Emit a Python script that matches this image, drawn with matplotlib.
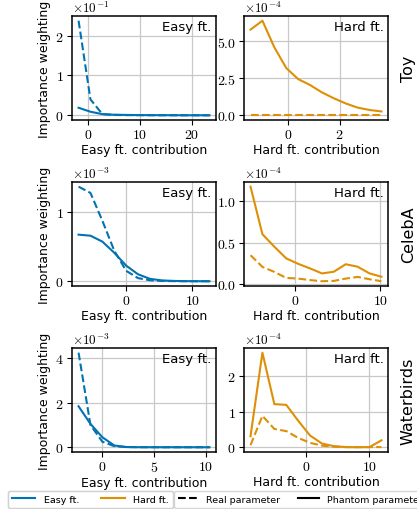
import matplotlib
matplotlib.use("Agg")
import matplotlib.pyplot as plt
from matplotlib.lines import Line2D

# colours of the two feature types
easy_color = "#0173B2"
hard_color = "#DE8F05"

# Toy
toy_easy_x = [-1.9, 0.4, 2.7, 5.0, 7.3, 9.6, 11.9, 14.2, 16.5, 18.8, 21.1, 23.4]
toy_easy_real = [0.2375, 0.04, 0.003, 0.001, 0.0006, 0.0004, 0.0003, 0.0002, 0.0002, 0.0001, 0.0001, 0.0001]
toy_easy_phantom = [0.019, 0.009, 0.003, 0.0015, 0.001, 0.0007, 0.0005, 0.0004, 0.0003, 0.0002, 0.0002, 0.0001]
toy_hard_x = [-1.44, -0.98, -0.52, -0.06, 0.4, 0.86, 1.32, 1.78, 2.24, 2.7, 3.16, 3.62]
toy_hard_real = [0.0] * 12
toy_hard_phantom = [5.8e-4, 6.4e-4, 4.6e-4, 3.2e-4, 2.45e-4, 2.05e-4, 1.55e-4, 1.15e-4, 0.8e-4, 0.52e-4, 0.36e-4, 0.26e-4]

# CelebA
celeba_easy_x = [-7.2, -5.4, -3.6, -1.8, 0.0, 1.8, 3.6, 5.4, 7.2, 9.0, 10.8, 12.6]
celeba_easy_real = [1.36e-3, 1.27e-3, 0.87e-3, 0.44e-3, 0.15e-3, 0.045e-3, 0.015e-3, 0.005e-3, 0.002e-3, 0.001e-3, 0.0005e-3, 0.0003e-3]
celeba_easy_phantom = [0.67e-3, 0.655e-3, 0.57e-3, 0.41e-3, 0.225e-3, 0.1e-3, 0.035e-3, 0.012e-3, 0.005e-3, 0.002e-3, 0.001e-3, 0.0005e-3]
celeba_hard_x = [-5.25, -3.85, -2.45, -1.05, 0.35, 1.75, 3.15, 4.55, 5.95, 7.35, 8.75, 10.15]
celeba_hard_real = [0.348e-4, 0.208e-4, 0.148e-4, 0.076e-4, 0.068e-4, 0.05e-4, 0.036e-4, 0.04e-4, 0.068e-4, 0.088e-4, 0.06e-4, 0.036e-4]
celeba_hard_phantom = [1.17e-4, 0.60e-4, 0.45e-4, 0.31e-4, 0.245e-4, 0.19e-4, 0.13e-4, 0.15e-4, 0.24e-4, 0.21e-4, 0.13e-4, 0.09e-4]

# Waterbirds
wb_easy_x = [-2.3, -1.15, 0.0, 1.15, 2.3, 3.45, 4.6, 5.75, 6.9, 8.05, 9.2, 10.35]
wb_easy_real = [4.25e-3, 1.0e-3, 0.25e-3, 0.05e-3, 0.01e-3, 0.004e-3, 0.002e-3, 0.001e-3, 0.001e-3, 0.0005e-3, 0.0005e-3, 0.0005e-3]
wb_easy_phantom = [1.84e-3, 1.05e-3, 0.45e-3, 0.08e-3, 0.01e-3, 0.003e-3, 0.002e-3, 0.001e-3, 0.001e-3, 0.0005e-3, 0.0005e-3, 0.0005e-3]
wb_hard_x = [-8.7, -6.83, -4.95, -3.08, -1.21, 0.67, 2.54, 4.41, 6.28, 8.16, 10.03, 11.9]
wb_hard_real = [0.065e-4, 0.89e-4, 0.52e-4, 0.46e-4, 0.27e-4, 0.13e-4, 0.05e-4, 0.02e-4, 0.01e-4, 0.01e-4, 0.01e-4, 0.01e-4]
wb_hard_phantom = [0.316e-4, 2.67e-4, 1.22e-4, 1.2e-4, 0.754e-4, 0.335e-4, 0.11e-4, 0.036e-4, 0.01e-4, 0.005e-4, 0.01e-4, 0.2e-4]

# ticks
toy_easy_xticks = [0, 10, 20]
toy_easy_yticks = [0, 0.1, 0.2]
toy_hard_xticks = [0, 2]
toy_hard_yticks = [0, 2.5e-4, 5e-4]
celeba_easy_xticks = [0, 10]
celeba_easy_yticks = [0, 1e-3]
celeba_hard_xticks = [0, 10]
celeba_hard_yticks = [0, 0.5e-4, 1e-4]
wb_easy_xticks = [0, 5, 10]
wb_easy_yticks = [0, 2e-3, 4e-3]
wb_hard_xticks = [0, 10]
wb_hard_yticks = [0, 1e-4, 2e-4]

plt.rcParams["font.family"] = "cmr10"
plt.rcParams["mathtext.fontset"] = "cm"
plt.rcParams["axes.formatter.use_mathtext"] = True
plt.rcParams["axes.unicode_minus"] = False
sans = "DejaVu Sans"


def panel(ax, x, real, phantom, color, xticks, yticks, xlabel, tag):
    ax.plot(x, real, color=color, linestyle="--", linewidth=1.5)
    ax.plot(x, phantom, color=color, linestyle="-", linewidth=1.5)
    ax.set_xticks(xticks)
    ax.set_yticks(yticks)
    ax.ticklabel_format(axis="y", style="sci", scilimits=(0, 0), useMathText=True)
    ax.grid(True, color="#c8c8c8", linewidth=0.9)
    ax.set_axisbelow(True)
    for s in ax.spines.values():
        s.set_linewidth(1.1)
    ax.tick_params(labelsize=10, pad=2.5)
    ax.yaxis.get_offset_text().set_fontsize(9.5)
    ax.set_xlabel(xlabel, fontsize=9, family=sans, labelpad=1)
    ax.text(0.97, 0.96, tag, transform=ax.transAxes, ha="right", va="top",
            fontsize=9.5, family=sans)


fig = plt.figure(figsize=(4.17, 5.10), dpi=100)
lefts = [0.1727, 0.5851]
bottoms = [0.7627, 0.4373, 0.1118]
w, h = 0.3453, 0.204

rows = [
    ("Toy", toy_easy_x, toy_easy_real, toy_easy_phantom, toy_easy_xticks, toy_easy_yticks,
     toy_hard_x, toy_hard_real, toy_hard_phantom, toy_hard_xticks, toy_hard_yticks),
    ("CelebA", celeba_easy_x, celeba_easy_real, celeba_easy_phantom, celeba_easy_xticks, celeba_easy_yticks,
     celeba_hard_x, celeba_hard_real, celeba_hard_phantom, celeba_hard_xticks, celeba_hard_yticks),
    ("Waterbirds", wb_easy_x, wb_easy_real, wb_easy_phantom, wb_easy_xticks, wb_easy_yticks,
     wb_hard_x, wb_hard_real, wb_hard_phantom, wb_hard_xticks, wb_hard_yticks),
]

for i, r in enumerate(rows):
    ax1 = fig.add_axes([lefts[0], bottoms[i], w, h])
    ax2 = fig.add_axes([lefts[1], bottoms[i], w, h])
    panel(ax1, r[1], r[2], r[3], easy_color, r[4], r[5], "Easy ft. contribution", "Easy ft.")
    panel(ax2, r[6], r[7], r[8], hard_color, r[9], r[10], "Hard ft. contribution", "Hard ft.")
    ax1.set_ylabel("Importance weighting", fontsize=9, family=sans, labelpad=3)
    ax2.text(1.14, 0.5, r[0], transform=ax2.transAxes, rotation=90, ha="center", va="center",
             fontsize=11.5, family=sans)

# legends at the bottom
leg_font = {"family": sans, "size": 6.8}
h_feat = [Line2D([], [], color=easy_color, lw=1.5), Line2D([], [], color=hard_color, lw=1.5)]
leg1 = fig.legend(h_feat, ["Easy ft.", "Hard ft."], ncol=2, loc="upper left",
                  bbox_to_anchor=(8 / 417, 18 / 510), prop=leg_font,
                  handlelength=2.5, handletextpad=0.9, columnspacing=2.3, borderaxespad=0)
h_par = [Line2D([], [], color="black", lw=1.5, ls="--"), Line2D([], [], color="black", lw=1.5)]
fig.legend(h_par, ["Real parameter", "Phantom parameter"], ncol=2, loc="upper left",
           bbox_to_anchor=(174 / 417, 18 / 510), prop=leg_font,
           handlelength=2.2, handletextpad=0.8, columnspacing=1.9, borderaxespad=0)
fig.add_artist(leg1)

plt.savefig("out.png", dpi=100)
plt.close()
